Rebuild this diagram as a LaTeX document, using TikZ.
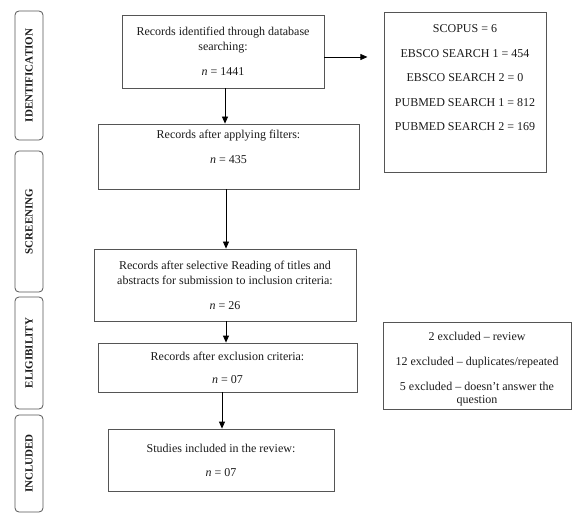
\documentclass[tikz,border=0pt]{standalone}
\usepackage{fontspec}
\setmainfont{Liberation Serif}
\usetikzlibrary{arrows.meta}
\definecolor{boxgray}{HTML}{555555}
\definecolor{txtcol}{HTML}{1A1A1A}
\begin{document}
\begin{tikzpicture}[x=1pt,y=-1pt,
  box/.style={draw=boxgray, line width=0.8pt, inner sep=0pt, align=center,
    text=txtcol, font=\fontsize{12}{15}\selectfont},
  txt/.style={inner sep=0pt, align=center, text=txtcol, font=\fontsize{12}{15}\selectfont},
  phase/.style={draw=boxgray, line width=0.8pt, rounded corners=4pt, inner sep=0pt,
    minimum width=28pt},
  phasetxt/.style={rotate=90, inner sep=0pt, text=txtcol, font=\fontsize{11}{12}\selectfont\bfseries},
  arr/.style={draw=black, line width=0.8pt, -{Triangle[width=6pt,length=7pt]}}
]
\useasboundingbox (0,0) rectangle (577,518);

% phase boxes
\node[phase, minimum height=129pt] (p1) at (29,75.5) {};
\node[phasetxt] (p1t) at (p1.center) {IDENTIFICATION};
\node[phase, minimum height=141pt] (p2) at (29,221.5) {};
\node[phasetxt] (p2t) at (p2.center) {SCREENING};
\node[phase, minimum height=112pt] (p3) at (29,353) {};
\node[phasetxt] (p3t) at (p3.center) {ELIGIBILITY};
\node[phase, minimum height=97pt] (p4) at (29,463.5) {};
\node[phasetxt] (p4t) at (p4.center) {INCLUDED};

% main boxes
\node[box, minimum width=202pt, minimum height=73pt] (b1) at (223,51.5)
  {Records identified through database\\searching:\\[10pt]\textit{n} = 1441};
\node[box, minimum width=261pt, minimum height=65pt] (b2) at (228.5,156.5)
  {Records after applying filters:\\[10pt]\textit{n} = 435\\[4pt]};
\node[box, minimum width=262pt, minimum height=72pt] (b3) at (225,285)
  {Records after selective Reading of titles and\\abstracts for submission to inclusion criteria:\\[10pt]\textit{n} = 26};
\node[box, minimum width=259pt, minimum height=49pt] (b4) at (227.5,367.5)
  {Records after exclusion criteria:\\[8pt]\textit{n} = 07};
\node[box, minimum width=226pt, minimum height=62pt] (b5) at (221,460)
  {Studies included in the review:\\[9pt]\textit{n} = 07};

% right boxes
\node[box, minimum width=162pt, minimum height=160pt] (r1) at (465,92) {};
\node[txt] (r1t) at (465,78)
  {SCOPUS = 6\\[9.5pt]EBSCO SEARCH 1 = 454\\[9.5pt]EBSCO SEARCH 2 = 0\\[9.5pt]PUBMED SEARCH 1 = 812\\[9.5pt]PUBMED SEARCH 2 = 169};
\node[box, minimum width=188pt, minimum height=87pt] (r2) at (477,365.5) {};
\node[txt] (r2t) at (477,369)
  {2 excluded -- review\\[10pt]12 excluded -- duplicates/repeated\\[10pt]5 excluded -- doesn't answer the\\[-2pt]question};

% arrows
\draw[arr] ([xshift=2pt]b1.south) -- ([xshift=2pt]b1.south |- b2.north);
\draw[arr] ([xshift=-2.5pt]b2.south) -- ([xshift=-2.5pt]b2.south |- b3.north);
\draw[arr] ([xshift=1pt]b3.south) -- ([xshift=1pt]b3.south |- b4.north);
\draw[arr] ([xshift=-5.5pt]b4.south) -- ([xshift=-5.5pt]b4.south |- b5.north);
\draw[arr] ([yshift=-5.5pt]b1.east) -- ++(43,0) coordinate (a1end);
\end{tikzpicture}
\end{document}
